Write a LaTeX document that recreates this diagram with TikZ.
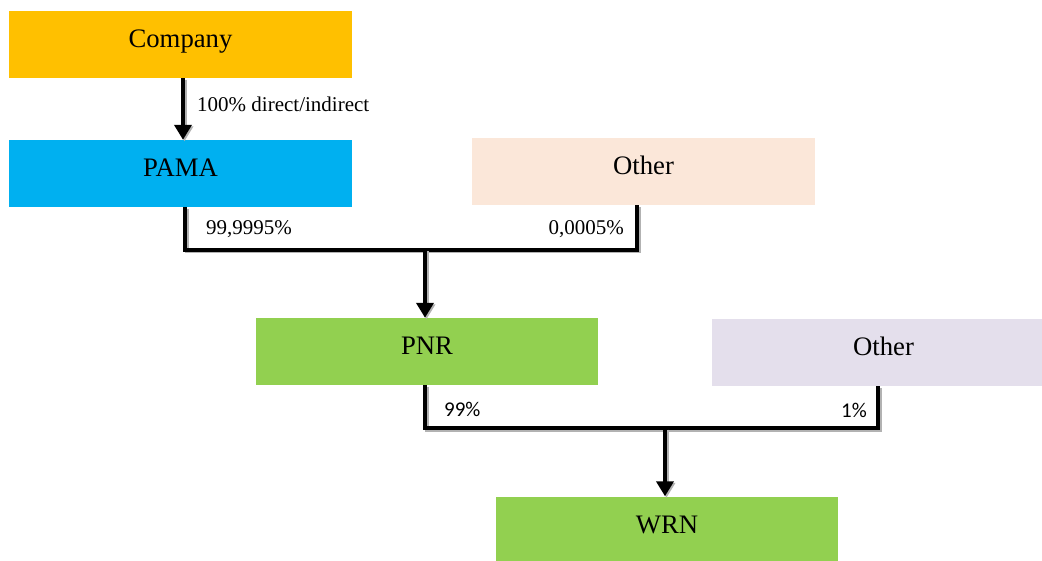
\documentclass[tikz,border=0pt]{standalone}
\usepackage{fontspec}
\setmainfont{Liberation Serif}
\newfontfamily\carlitofont{Carlito}
\usetikzlibrary{arrows.meta,calc}
\definecolor{cOrange}{HTML}{FFC000}
\definecolor{cBlue}{HTML}{00B0F0}
\definecolor{cPeach}{HTML}{FBE7D9}
\definecolor{cGreen}{HTML}{92D050}
\definecolor{cLilac}{HTML}{E4DFEC}
\tikzset{
  box/.style={fill=#1, draw=none, minimum width=343pt, minimum height=67pt, inner sep=0pt,
    text height=18pt, text depth=11.4pt,
    font=\fontsize{26.7}{30}\selectfont},
  lbl/.style={inner sep=0pt, font=\fontsize{21}{24}\selectfont},
  lblc/.style={inner sep=0pt, font=\carlitofont\fontsize{21}{24}\selectfont},
  shad/.style={preaction={draw=black!30, line width=4pt, transform canvas={shift={(1.5pt,-1.5pt)}}}},
  conn/.style={line width=4pt, black, shad},
  arr/.style={line width=4pt, black, -{Triangle[width=17pt,length=15pt]}, shad},
}
\begin{document}
\begin{tikzpicture}[x=1pt,y=1pt]
\useasboundingbox (0,0) rectangle (1042,-561);
\begin{scope}
\clip (0,0) rectangle (1042,-561);
\node[box=cOrange] (company) at (180.5,-44.5) {Company};
\node[box=cBlue] (pama) at (180.5,-173.5) {PAMA};
\node[box=cPeach] (other1) at (643.5,-171.5) {Other};
\node[box=cGreen, minimum width=342pt] (pnr) at (427,-351.5) {PNR};
\node[box=cLilac] (other2) at (883.5,-352.5) {Other};
\node[box=cGreen, minimum width=342pt] (wrn) at (667,-530) {WRN};
\end{scope}

\draw[arr] ([xshift=2.5pt]company.south) -- ([xshift=2.5pt]pama.north);
\node[lbl, anchor=west] (l1) at (197,-104) {100\% direct/indirect};

\coordinate (j1) at (425,-250);
\draw[conn] ([xshift=4.5pt]pama.south) |- (j1) -| ([xshift=-6.5pt]other1.south);
\draw[arr] (j1) -- (j1 |- pnr.north);
\node[lbl, anchor=west] (l2) at (206,-229) {99,9995\%};
\node[lbl, anchor=east] (l3) at (624,-229) {0,0005\%};

\coordinate (j2) at (665,-428);
\draw[conn] ([xshift=-2pt]pnr.south) |- (j2) -| ([xshift=-5.5pt]other2.south);
\draw[arr] (j2) -- (j2 |- wrn.north);
\node[lblc, anchor=west] (l4) at (444,-409) {99\%};
\node[lblc, anchor=east] (l5) at (867,-410) {1\%};
\end{tikzpicture}
\end{document}
